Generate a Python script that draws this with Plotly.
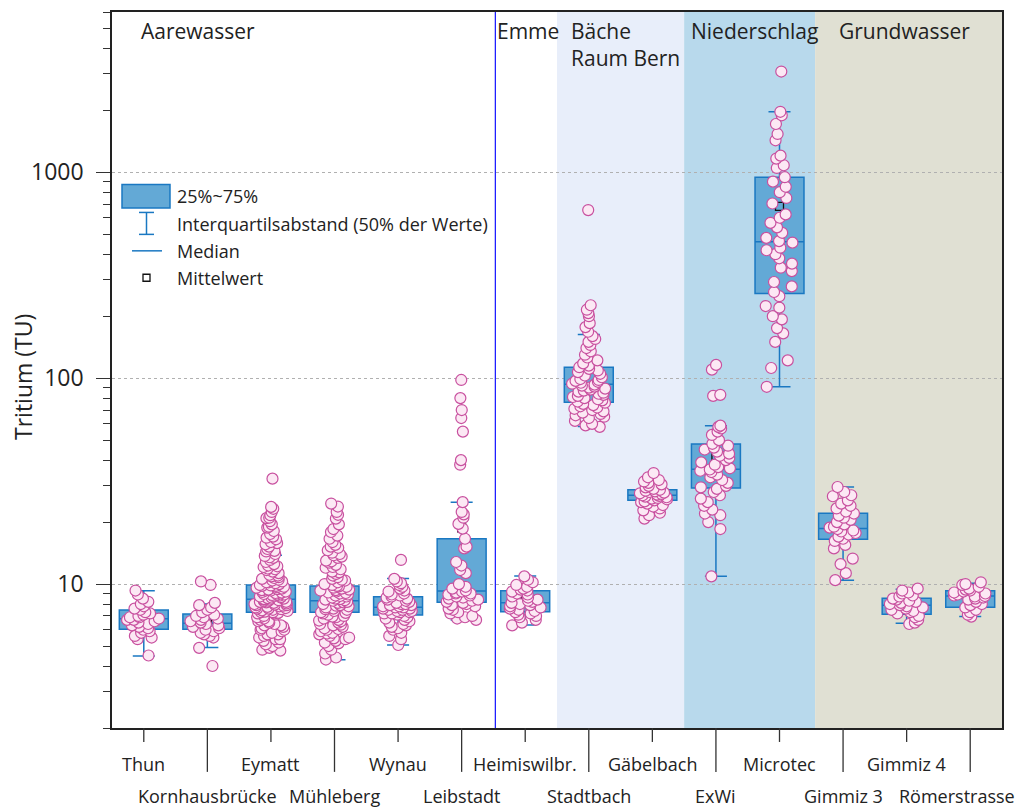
import numpy as np
import plotly.graph_objects as go

categories = ["Thun", "Kornhausbrücke", "Eymatt", "Mühleberg", "Wynau", "Leibstadt",
              "Heimiswilbr.", "Stadtbach", "Gäbelbach", "ExWi", "Microtec",
              "Gimmiz 3", "Gimmiz 4", "Römerstrasse"]

thun = [9.3, 8.9, 8.5, 8.2, 8.0, 7.8, 7.6, 7.5, 7.3, 7.2, 7.1, 7.0, 6.9, 6.9, 6.8, 6.7,
        6.7, 6.6, 6.5, 6.4, 6.3, 6.2, 6.1, 6.0, 5.9, 5.8, 5.6, 5.5, 5.4, 4.5]
kornhaus = [10.3, 9.9, 8.1, 7.9, 7.7, 7.5, 7.3, 7.1, 7.0, 6.9, 6.8, 6.7, 6.6, 6.5, 6.4,
            6.3, 6.2, 6.1, 6.0, 5.9, 5.8, 5.7, 5.6, 5.5, 4.9, 4.0]
eymatt = [32.5, 23.7, 23.2, 22.4, 21.6, 20.9, 20.2, 19.5, 18.8, 18.1, 17.5, 17.0, 16.5,
          16.0, 15.6, 15.2, 14.8, 14.4, 14.0, 13.7, 13.4, 13.1, 12.8, 12.5, 12.3, 12.1,
          11.9, 11.7, 11.5, 11.3, 11.1, 10.9, 10.8, 10.6, 10.5, 10.4, 10.3, 10.2, 10.1,
          10.0, 9.9, 9.85, 9.8, 9.7, 9.65, 9.6, 9.5, 9.45, 9.4, 9.35, 9.3, 9.2, 9.15,
          9.1, 9.05, 9.0, 8.95, 8.9, 8.85, 8.8, 8.75, 8.7, 8.65, 8.6, 8.55, 8.5, 8.45,
          8.4, 8.4, 8.35, 8.3, 8.25, 8.2, 8.15, 8.1, 8.05, 8.0, 7.95, 7.9, 7.85, 7.8,
          7.75, 7.7, 7.65, 7.6, 7.55, 7.5, 7.45, 7.4, 7.35, 7.3, 7.3, 7.25, 7.2, 7.1,
          7.0, 6.9, 6.8, 6.7, 6.6, 6.5, 6.4, 6.3, 6.2, 6.1, 6.0, 5.9, 5.8, 5.7, 5.6,
          5.5, 5.4, 5.3, 5.2, 5.1, 5.0, 4.9, 4.8, 4.75, 12.2, 11.8, 11.0, 10.7, 10.2,
          9.8, 9.3, 8.9, 8.6, 8.2, 7.9, 7.6, 7.2, 6.9, 6.6, 6.3, 6.0, 5.7, 5.4, 13.5,
          14.5, 15.8, 16.8, 19.0, 21.0]
muehleberg = [24.6, 23.8, 22.4, 21.7, 20.8, 19.5, 17.9, 17.2, 16.6, 16.0, 15.5, 15.0,
              14.6, 14.2, 13.8, 13.4, 13.0, 12.7, 12.4, 12.1, 11.8, 11.5, 11.2, 11.0,
              10.8, 10.6, 10.4, 10.2, 10.0, 9.9, 9.8, 9.7, 9.6, 9.5, 9.4, 9.3, 9.2, 9.1,
              9.0, 8.9, 8.8, 8.7, 8.6, 8.5, 8.4, 8.35, 8.3, 8.2, 8.1, 8.0, 7.9, 7.8, 7.7,
              7.6, 7.5, 7.4, 7.3, 7.2, 7.1, 7.0, 6.9, 6.8, 6.7, 6.6, 6.5, 6.4, 6.3, 6.2,
              6.1, 6.0, 5.9, 5.8, 5.7, 5.6, 5.5, 5.4, 5.3, 5.2, 5.0, 4.8, 4.6, 4.4, 4.3,
              15.2, 13.6, 12.0, 11.4, 10.5, 9.75, 9.35, 9.05, 8.75, 8.45, 8.15, 7.85,
              7.55, 7.25, 6.95, 6.65, 6.35, 6.05, 5.75, 5.45, 5.15, 12.9, 14.0, 18.5]
wynau = [13.1, 10.6, 10.3, 10.1, 9.9, 9.7, 9.5, 9.3, 9.2, 9.0, 8.9, 8.8, 8.7, 8.6, 8.5,
         8.4, 8.3, 8.2, 8.1, 8.0, 8.0, 7.9, 7.9, 7.8, 7.8, 7.7, 7.7, 7.6, 7.6, 7.5, 7.5,
         7.4, 7.4, 7.3, 7.3, 7.2, 7.2, 7.1, 7.0, 6.9, 6.8, 6.7, 6.6, 6.5, 6.4, 6.3, 6.2,
         6.1, 6.0, 5.8, 5.6, 5.4, 5.06]
leibstadt = [98, 80, 70, 64, 55, 40, 38, 25, 22.4, 21.8, 21, 19.6, 18.6, 16.6, 15.2, 14.9,
             12.8, 12.3, 11.7, 11.3, 10.0, 9.7, 9.5, 9.3, 9.2, 9.0, 8.8, 8.6, 8.4, 8.2,
             8.0, 7.9, 7.6, 7.3, 7.0, 6.9, 6.7, 9.1, 9.0, 8.9, 8.7, 8.5, 8.3, 8.1, 7.8,
             7.5, 7.2, 6.8]
heimiswil = [10.9, 10.5, 10.2, 9.9, 9.7, 9.5, 9.4, 9.3, 9.2, 9.0, 8.9, 8.7, 8.6, 8.4,
             8.3, 8.2, 8.1, 8.0, 7.9, 7.8, 7.7, 7.6, 7.5, 7.4, 7.3, 7.2, 7.1, 7.0, 6.9,
             6.7, 6.5, 6.3]
stadtbach = [655, 226, 215, 207, 200, 185, 177, 168, 160, 155, 150, 145, 140, 135, 130,
             126, 122, 118, 115, 113, 111, 109, 107, 105, 103, 101, 99, 98, 97, 96, 95,
             94, 93, 92, 91, 90, 89, 88, 87, 86, 85, 84, 83, 82, 81, 80, 79, 78, 77, 76,
             75, 74, 73, 72, 71, 70, 69, 68, 67, 66, 65, 64, 62, 60, 59, 58]
gaebelbach = [34.6, 33, 32, 31.5, 31, 30.5, 30, 29.5, 29, 28.7, 28.4, 28.2, 28, 27.8,
              27.6, 27.4, 27.2, 27, 26.8, 26.6, 26.4, 26.2, 26, 25.8, 25.5, 25.2, 25,
              24.6, 24.2, 23.8, 23.3, 22.8, 22.2, 21.6, 20.8]
exwi = [116, 110, 83, 82, 58.8, 58, 57, 55, 53, 50, 48, 47, 46, 45, 44, 43, 42, 41, 40,
        39, 38, 37, 36.5, 36, 35.5, 35, 34, 33, 32, 31, 30, 29.5, 29, 28, 27, 26, 25, 24,
        23, 22, 21.6, 20, 18.5, 10.9]
microtec = [3083, 1966, 1890, 1715, 1534, 1429, 1204, 1165, 1081, 1049, 946, 900, 850,
            800, 750, 705, 624, 601, 568, 540, 508, 480, 463, 455, 430, 418, 400, 382,
            360, 344, 331, 293, 279, 262, 250, 224, 220, 200, 193, 175, 165, 150, 122,
            112, 90.8]
gimmiz3 = [29.6, 28, 27, 26.7, 25.5, 24.6, 24, 23.3, 22.5, 22, 21.5, 21, 20.5, 20, 19.5,
           19, 18.8, 18.5, 18.2, 18, 17.7, 17.4, 17, 16.6, 16.2, 15.5, 14.9, 13.3, 12.5,
           11.3, 10.45]
gimmiz4 = [9.5, 9.3, 9.1, 9.0, 8.8, 8.7, 8.5, 8.4, 8.3, 8.2, 8.1, 8.0, 7.9, 7.8, 7.7,
           7.6, 7.5, 7.4, 7.3, 7.2, 7.0, 6.9, 6.7, 6.5, 6.4]
roemer = [10.2, 10.0, 9.9, 9.7, 9.5, 9.4, 9.3, 9.2, 9.1, 9.0, 8.9, 8.8, 8.75, 8.7, 8.6,
          8.5, 8.4, 8.2, 8.0, 7.9, 7.7, 7.5, 7.3, 7.1, 6.95]

points = [thun, kornhaus, eymatt, muehleberg, wynau, leibstadt, heimiswil, stadtbach,
          gaebelbach, exwi, microtec, gimmiz3, gimmiz4, roemer]

# box statistics
q1 = [6.04, 6.04, 7.29, 7.29, 7.08, 8.15, 7.34, 76.4, 25.5, 29.3, 258, 16.5, 7.14, 7.71]
median = [6.79, 6.45, 8.43, 8.30, 7.71, 9.25, 8.12, 93.5, 27.0, 36.1, 460, 18.6, 7.90, 8.75]
q3 = [7.48, 7.15, 9.89, 9.78, 8.68, 16.6, 9.28, 113, 28.7, 47.9, 946, 22.1, 8.53, 9.28]
lowerfence = [4.48, 4.92, 4.74, 4.29, 5.06, 6.69, 6.33, 58.2, 21.6, 10.9, 90.8, 10.45, 6.45, 6.95]
upperfence = [9.28, 8.0, 13.8, 13.5, 10.65, 25.0, 10.93, 163, 31.6, 58.8, 1966, 29.6, 9.43, 10.08]

groups = ["Aarewasser", "Emme", "Bäche<br>Raum Bern", "Niederschlag", "Grundwasser"]
legend_labels = ["25%~75%", "Interquartilsabstand (50% der Werte)", "Median", "Mittelwert"]
ytick_vals = [10, 100, 1000]

FONT = "Open Sans"
BOX_LINE = "#1a78c2"
BOX_FILL = "#63a9d6"

# page has an 8px body margin; figure placed at (8, 8)
OFF = 8
W, H = 1023 - OFF, 807 - OFF
PLOT_L, PLOT_R, PLOT_T, PLOT_B = 112, 1002, 10, 728   # page pixels
PW, PH = PLOT_R - PLOT_L, PLOT_B - PLOT_T
L, T = PLOT_L - OFF, PLOT_T - OFF
R, B = W - L - PW, H - T - PH


def pxx(x):
    return (x - PLOT_L) / PW


def pyy(y):
    return (PLOT_B - y) / PH


idx = list(range(len(categories)))
means = [float(np.mean(p)) for p in points]

fig = go.Figure()

fig.add_trace(go.Box(
    x=idx, q1=q1, median=median, q3=q3, lowerfence=lowerfence, upperfence=upperfence,
    width=0.77, whiskerwidth=0.45, boxpoints=False,
    fillcolor=BOX_FILL, line=dict(color=BOX_LINE, width=1.5), showlegend=False,
))

fig.add_trace(go.Box(
    x=idx, y=means, boxpoints="all", jitter=0, pointpos=0, width=0.77,
    fillcolor="rgba(0,0,0,0)", line=dict(color="rgba(0,0,0,0)", width=0),
    whiskerwidth=0,
    marker=dict(symbol="square-open", size=8, color="#111",
                line=dict(color="#111", width=1.3)),
    showlegend=False,
))

px_all, py_all = [], []
for i, p in enumerate(points):
    px_all += [i] * len(p)
    py_all += p

fig.add_trace(go.Box(
    x=px_all, y=py_all, boxpoints="all", jitter=0.7, pointpos=0, width=0.77,
    fillcolor="rgba(0,0,0,0)", line=dict(color="rgba(0,0,0,0)", width=0),
    whiskerwidth=0,
    marker=dict(symbol="circle", size=11, color="#fce8f4",
                line=dict(color="#c8509f", width=1.2)),
    showlegend=False,
))

shapes = []
# shaded regions
for x0, x1, col in [(6.5, 8.5, "#e8eefa"), (8.5, 10.56, "#b8d9ec"), (10.56, 13.5, "#e0e0d3")]:
    shapes.append(dict(type="rect", xref="x", yref="paper", x0=x0, x1=x1, y0=0, y1=1,
                       fillcolor=col, line=dict(width=0), layer="below"))
shapes.append(dict(type="line", xref="x", yref="paper", x0=5.53, x1=5.53, y0=0, y1=1,
                   line=dict(color="#1010ff", width=1.2)))
# x ticks
for i in idx:
    ln = 14 if i % 2 == 0 else 44
    shapes.append(dict(type="line", xref="x", yref="paper", x0=i, x1=i, y0=0,
                       y1=-ln / PH, line=dict(color="#333", width=1.3)))
# legend symbols
shapes.append(dict(type="rect", xref="paper", yref="paper", x0=pxx(122), x1=pxx(170),
                   y0=pyy(206.5), y1=pyy(183), fillcolor=BOX_FILL,
                   line=dict(color=BOX_LINE, width=1.5)))
shapes.append(dict(type="line", xref="paper", yref="paper", x0=pxx(146.5), x1=pxx(146.5),
                   y0=pyy(233), y1=pyy(211), line=dict(color=BOX_LINE, width=1.5)))
for yy in (211, 233):
    shapes.append(dict(type="line", xref="paper", yref="paper", x0=pxx(139), x1=pxx(154),
                       y0=pyy(yy), y1=pyy(yy), line=dict(color=BOX_LINE, width=1.5)))
shapes.append(dict(type="line", xref="paper", yref="paper", x0=pxx(132), x1=pxx(162),
                   y0=pyy(249.5), y1=pyy(249.5), line=dict(color=BOX_LINE, width=1.5)))
shapes.append(dict(type="rect", xref="paper", yref="paper", x0=pxx(143), x1=pxx(150),
                   y0=pyy(280), y1=pyy(273), line=dict(color="#111", width=1.3)))

annotations = []
for t, yy in zip(legend_labels, [195, 223, 250, 277]):
    annotations.append(dict(text=t, xref="paper", yref="paper", x=pxx(175), y=pyy(yy),
                            xanchor="left", yanchor="middle", showarrow=False,
                            font=dict(family=FONT, size=18, color="#222")))
for t, xx, yy in zip(groups, [139, 495, 569, 689, 837], [29, 29, 42.5, 29, 29]):
    annotations.append(dict(text=t, xref="paper", yref="paper", x=pxx(xx), y=pyy(yy),
                            xanchor="left", yanchor="middle", align="left",
                            showarrow=False,
                            font=dict(family=FONT, size=21, color="#222")))
last = len(categories) - 1
for i, c in enumerate(categories):
    yy = 764 if i % 2 == 0 else 796
    if i == last:
        # shifted left so the label stays inside the page, as in the original
        annotations.append(dict(text=c, xref="paper", yref="paper", x=pxx(1017),
                                y=pyy(yy), xanchor="right", yanchor="middle",
                                showarrow=False,
                                font=dict(family=FONT, size=18, color="#222")))
    else:
        annotations.append(dict(text=c, xref="x", yref="paper", x=i, y=pyy(yy),
                                xanchor="center", yanchor="middle", showarrow=False,
                                font=dict(family=FONT, size=18, color="#222")))
annotations.append(dict(text="Tritium (TU)", xref="paper", yref="paper", x=pxx(23),
                        y=pyy(376), xanchor="center", yanchor="middle", textangle=-90,
                        showarrow=False, font=dict(family=FONT, size=23, color="#222")))

minor_vals = [m * 10 ** e for e in range(0, 4) for m in range(2, 10) if m * 10 ** e <= 6000]

fig.update_layout(
    width=W, height=H, margin=dict(l=L, r=R, t=T, b=B, pad=0),
    paper_bgcolor="white", plot_bgcolor="white",
    boxmode="overlay", showlegend=False,
    font=dict(family=FONT, color="#222"),
    shapes=shapes, annotations=annotations,
    xaxis=dict(range=[-0.5, 13.5], showticklabels=False, ticks="", showgrid=False,
               zeroline=False, showline=True, linecolor="#222", linewidth=1.5, mirror=True),
    yaxis=dict(type="log", range=[np.log10(2), np.log10(6000)], tickmode="array",
               tickvals=ytick_vals, ticktext=[str(v) for v in ytick_vals],
               ticks="outside", ticklen=14, tickwidth=1.3, tickcolor="#333",
               tickfont=dict(family=FONT, size=23, color="#222"), ticklabelstandoff=8,
               showgrid=True, gridcolor="#b0b0b0", griddash="dot", gridwidth=1,
               zeroline=False, showline=True, linecolor="#222", linewidth=1.5, mirror=True,
               minor=dict(tickmode="array", tickvals=minor_vals, ticks="outside",
                          ticklen=7, tickwidth=1.2, tickcolor="#333", showgrid=False)),
)

fig.write_html("out.html")
